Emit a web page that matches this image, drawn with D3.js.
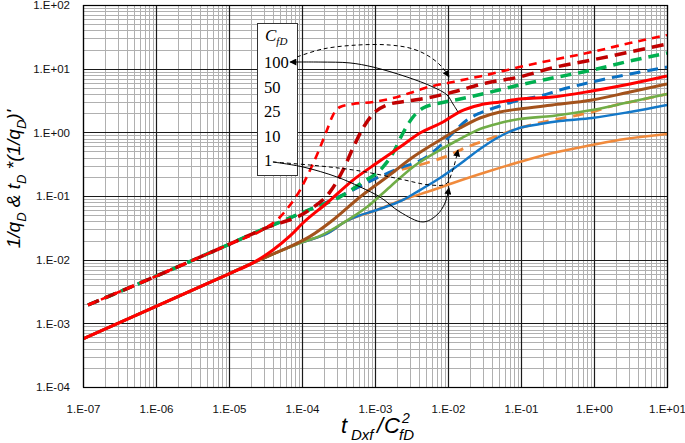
<!DOCTYPE html>
<html><head><meta charset="utf-8">
<script src="https://cdn.jsdelivr.net/npm/d3@7"></script>
<style>body{margin:0;background:#fff}svg{display:block}</style>
</head><body><svg id="c" width="685" height="443"></svg>
<script>
// ---------- data ----------
const xTickValues = [1e-7, 1e-6, 1e-5, 1e-4, 1e-3, 1e-2, 1e-1, 1e0, 1e1];
const xTickLabels = ["1.E-07","1.E-06","1.E-05","1.E-04","1.E-03","1.E-02","1.E-01","1.E+00","1.E+01"];
const yTickValues = [1e-4, 1e-3, 1e-2, 1e-1, 1e0, 1e1, 1e2];
const yTickLabels = ["1.E-04","1.E-03","1.E-02","1.E-01","1.E+00","1.E+01","1.E+02"];
const cfdLabels = ["100","50","25","10","1"];

// 1/qD (solid) for CfD = 100, 50, 25, 10, 1
const qd100 = [[1e-7,5.7e-4],[1e-6,1.85e-3],[1e-5,6.0e-3],[2.13e-5,8.9e-3],[4.0e-5,0.0142],[6.86e-5,0.0236],[1.03e-4,0.0377],[2.2e-4,0.0776],[5.0e-4,0.178],[1.06e-3,0.33],[2.2e-3,0.588],[4.13e-3,0.977],[8.55e-3,1.45],[1.46e-2,2.12],[2.74e-2,2.69],[5.15e-2,3.0],[9.5e-2,3.34],[0.27,3.59],[0.94,4.46],[3.11,5.74],[10,7.67]];
const qd50 = [[1e-7,5.7e-4],[1e-6,1.85e-3],[1e-5,6.0e-3],[2.13e-5,8.9e-3],[4.27e-5,0.0127],[6.86e-5,0.016],[1.29e-4,0.0232],[2.66e-4,0.042],[6.24e-4,0.0964],[1.46e-3,0.199],[3.32e-3,0.41],[7.76e-3,0.758],[1.46e-2,1.17],[2.74e-2,1.68],[5.15e-2,2.09],[9.5e-2,2.33],[0.27,2.69],[0.94,3.22],[3.11,4.3],[10,5.74]];
const qd25 = [[1e-7,5.7e-4],[1e-6,1.85e-3],[1e-5,6.0e-3],[2.13e-5,8.9e-3],[9.4e-5,0.0183],[1.77e-4,0.0236],[3.65e-4,0.0377],[7.76e-4,0.0671],[1.6e-3,0.139],[3.32e-3,0.286],[7.76e-3,0.528],[1.46e-2,0.786],[2.74e-2,1.13],[5.15e-2,1.40],[9.5e-2,1.62],[0.27,1.81],[0.94,2.24],[3.11,3.0],[10,4.0]];
const qd10 = [[1e-7,5.7e-4],[1e-6,1.85e-3],[1e-5,6.0e-3],[2.13e-5,8.9e-3],[9.4e-5,0.0183],[2.42e-4,0.0272],[3.65e-4,0.0377],[5.0e-4,0.0452],[1.06e-3,0.0603],[2.42e-3,0.0866],[4.13e-3,0.124],[7.76e-3,0.192],[1.46e-2,0.318],[2.74e-2,0.547],[4.69e-2,0.815],[9.5e-2,1.17],[0.182,1.35],[0.342,1.51],[0.94,1.68],[3.11,2.09],[10,2.69]];
const qd1 = [[1e-7,5.7e-4],[1e-6,1.85e-3],[1e-5,6.0e-3],[2.13e-5,8.9e-3],[9.4e-5,0.0183],[2.42e-4,0.0272],[3.65e-4,0.0377],[1.06e-3,0.0603],[2.58e-3,0.0897],[6.24e-3,0.124],[1.17e-2,0.16],[3.36e-2,0.238],[9.5e-2,0.342],[0.27,0.474],[0.94,0.633],[2.66,0.786],[10,0.942]];

// tD*(1/qD)' (dashed) for CfD = 100, 50, 25, 10, 1
const dqd100 = [[1.17e-7,1.94e-3],[1e-6,5.5e-3],[1e-5,0.0174],[3.1e-5,0.031],[5.0e-5,0.0468],[6.86e-5,0.0723],[9.4e-5,0.124],[1.29e-4,0.256],[1.6e-4,0.44],[2.2e-4,1.09],[2.66e-4,1.87],[3.32e-4,2.5],[5.0e-4,2.79],[9.4e-4,3.0],[1.77e-3,3.46],[3.01e-3,4.15],[4.84e-3,4.97],[1.17e-2,6.18],[3.36e-2,7.96],[9.5e-2,10.6],[0.27,13.7],[0.94,18.3],[3.11,25.3],[10,33.8]];
const dqd50 = [[1.17e-7,1.94e-3],[1e-6,5.5e-3],[1e-5,0.0174],[3.1e-5,0.031],[1.29e-4,0.0614],[2.42e-4,0.116],[3.65e-4,0.256],[5.0e-4,0.568],[6.86e-4,1.17],[9.4e-4,1.94],[1.46e-3,2.69],[2.74e-3,3.1],[5.15e-3,3.46],[1.17e-2,4.3],[3.36e-2,5.96],[9.5e-2,7.4],[0.27,10.3],[0.94,13.7],[3.11,18.3],[10,24.4]];
const dqd25 = [[1.17e-7,1.94e-3],[1e-6,5.5e-3],[1e-5,0.0174],[3.1e-5,0.031],[1.29e-4,0.0614],[3.32e-4,0.0964],[6.24e-4,0.155],[1.29e-3,0.286],[1.77e-3,0.474],[2.42e-3,0.977],[3.32e-3,1.74],[4.55e-3,2.41],[7.76e-3,2.89],[1.46e-2,3.34],[3.36e-2,4.15],[9.5e-2,5.54],[0.27,7.13],[0.94,9.5],[3.11,13.2],[10,17.6]];
const dqd10 = [[1.17e-7,1.94e-3],[1e-6,5.5e-3],[1e-5,0.0174],[3.1e-5,0.031],[1.29e-4,0.0614],[3.88e-4,0.108],[1.06e-3,0.192],[2.2e-3,0.275],[4.55e-3,0.381],[7.76e-3,0.61],[1.17e-2,0.977],[1.82e-2,1.56],[2.74e-2,2.01],[4.69e-2,2.5],[9.5e-2,3.22],[0.182,3.72],[0.342,4.62],[0.94,6.18],[3.11,8.24],[10,10.6]];
const dqd1 = [[1.17e-7,1.94e-3],[1e-6,5.5e-3],[1e-5,0.0174],[3.1e-5,0.031],[1.29e-4,0.0614],[3.88e-4,0.108],[1.06e-3,0.192],[2.2e-3,0.256],[4.55e-3,0.318],[9.7e-3,0.425],[1.82e-2,0.588],[3.36e-2,0.758],[9.5e-2,1.17],[0.27,1.56],[0.94,2.09],[1.77,2.59],[4.27,3.22],[10,4.0]];

// annotation arrows (data coordinates)
const arrow100Solid = [[6.86e-5,12.7],[1.77e-4,12.7],[4.55e-4,12.3],[9.4e-4,10.6],[2.74e-3,7.4],[6.24e-3,5.15],[9.7e-3,3.86],[1.17e-2,2.79],[1.37e-2,2.09]];
const arrow100Dash = [[8.55e-5,15.3],[1.94e-4,20.4],[5.66e-4,23.5],[1.6e-3,23.5],[3.32e-3,20.4],[5.66e-3,15.3],[8.28e-3,10.6],[1.03e-2,7.4]];
const arrow1Solid = [[4.0e-5,0.342],[1.03e-4,0.286],[3.01e-4,0.199],[6.24e-4,0.139],[1.17e-3,0.0964],[2.2e-3,0.0561],[4.55e-3,0.0391],[7.06e-3,0.0504],[9.1e-3,0.0776],[1.03e-2,0.134]];
const arrow1Dash = [[4.0e-5,0.342],[1.77e-4,0.296],[6.24e-4,0.247],[2.2e-3,0.185],[5.66e-3,0.149],[9.4e-3,0.155],[1.14e-2,0.238],[1.37e-2,0.528]];

// ---------- drawing ----------
const svg = d3.select("#c");
const L = 83, R = 667, T = 5, B = 387;
const x = d3.scaleLog().domain([1e-7, 10]).range([L, R]);
const y = d3.scaleLog().domain([1e-4, 100]).range([B, T]);

svg.append("rect").attr("width",685).attr("height",443).attr("fill","#fff");

// grid
const minorX = [], minorY = [];
for (let e = -7; e < 1; e++) for (let k = 2; k <= 9; k++) minorX.push(k * Math.pow(10, e));
for (let e = -4; e < 2; e++) for (let k = 2; k <= 9; k++) minorY.push(k * Math.pow(10, e));
const g = svg.append("g");
g.selectAll(".mx").data(minorX).join("line")
  .attr("x1", d => Math.round(x(d)) + 0.5).attr("x2", d => Math.round(x(d)) + 0.5)
  .attr("y1", T).attr("y2", B).attr("stroke", "#b0b0b0").attr("stroke-width", 1);
g.selectAll(".my").data(minorY).join("line")
  .attr("y1", d => Math.round(y(d)) + 0.5).attr("y2", d => Math.round(y(d)) + 0.5)
  .attr("x1", L).attr("x2", R).attr("stroke", "#b0b0b0").attr("stroke-width", 1);
g.selectAll(".Mx").data(xTickValues).join("line")
  .attr("x1", d => Math.round(x(d)) + 0.5).attr("x2", d => Math.round(x(d)) + 0.5)
  .attr("y1", T).attr("y2", B).attr("stroke", "#1a1a1a").attr("stroke-width", 1.2);
g.selectAll(".My").data(yTickValues).join("line")
  .attr("y1", d => Math.round(y(d)) + 0.5).attr("y2", d => Math.round(y(d)) + 0.5)
  .attr("x1", L).attr("x2", R).attr("stroke", "#1a1a1a").attr("stroke-width", 1.2);

// axes (labels only)
const tickFont = "'Liberation Sans', Arial, sans-serif";
const xa = svg.append("g").attr("transform", `translate(0,${B})`)
  .call(d3.axisBottom(x).tickValues(xTickValues).tickFormat((d, i) => xTickLabels[i]).tickSize(0).tickPadding(18));
const ya = svg.append("g").attr("transform", `translate(${L},0)`)
  .call(d3.axisLeft(y).tickValues(yTickValues).tickFormat((d, i) => yTickLabels[i]).tickSize(0).tickPadding(13));
[xa, ya].forEach(a => {
  a.select(".domain").remove();
  a.selectAll("text").attr("font-family", tickFont).attr("font-size", 11.5).attr("fill", "#111");
});

// series
const line = d3.line().x(d => x(d[0])).y(d => y(d[1])).curve(d3.curveMonotoneX);
const plot = svg.append("g");
plot.append("clipPath").attr("id","clip").append("rect").attr("x",L).attr("y",T).attr("width",R-L).attr("height",B-T);
const pg = plot.append("g").attr("clip-path","url(#clip)");

const dashed = [
  {data: dqd1,   color: "#f08a3c", w: 2.8, dash: "11,7"},
  {data: dqd10,  color: "#0a70c2", w: 3,   dash: "11,7"},
  {data: dqd25,  color: "#00b050", w: 3.5, dash: "11,7"},
  {data: dqd50,  color: "#c00000", w: 3.5, dash: "12,7"},
  {data: dqd100, color: "#ff0000", w: 2.6, dash: "8,6"}
];
const solid = [
  {data: qd1,   color: "#f08a3c", w: 2.5},
  {data: qd10,  color: "#1478c8", w: 2.5},
  {data: qd25,  color: "#70ad47", w: 2.6},
  {data: qd50,  color: "#a3521c", w: 3},
  {data: qd100, color: "#ff0000", w: 3}
];
dashed.forEach(s => pg.append("path").attr("d", line(s.data)).attr("fill","none")
  .attr("stroke", s.color).attr("stroke-width", s.w).attr("stroke-dasharray", s.dash));
solid.forEach(s => pg.append("path").attr("d", line(s.data)).attr("fill","none")
  .attr("stroke", s.color).attr("stroke-width", s.w));

// frame
svg.append("rect").attr("x", L + 0.5).attr("y", T + 0.5).attr("width", R - L).attr("height", B - T)
  .attr("fill", "none").attr("stroke", "#000").attr("stroke-width", 1.2);

// legend box
const lg = svg.append("g");
lg.append("rect").attr("x", 257.5).attr("y", 23.5).attr("width", 40).attr("height", 152)
  .attr("fill", "#fff").attr("stroke", "#333").attr("stroke-width", 1);
const serif = "'Liberation Serif', 'Times New Roman', serif";
const ct = lg.append("text").attr("x", 265).attr("y", 41).attr("font-family", serif)
  .attr("font-size", 17).attr("font-style", "italic").attr("fill", "#000");
ct.append("tspan").text("C");
ct.append("tspan").attr("font-size", 11).attr("dy", 4).text("fD");
lg.selectAll(".cl").data(cfdLabels).join("text")
  .attr("x", 264).attr("y", (d, i) => 68 + i * 24.5)
  .attr("font-family", serif).attr("font-size", 16.5).attr("fill", "#000").text(d => d);

// arrows
const defs = svg.append("defs");
defs.append("marker").attr("id", "ah").attr("viewBox", "0 0 10 10").attr("refX", 9).attr("refY", 5)
  .attr("markerWidth", 9).attr("markerHeight", 7).attr("markerUnits", "userSpaceOnUse")
  .attr("orient", "auto-start-reverse")
  .append("path").attr("d", "M0,0 L10,5 L0,10 Z").attr("fill", "#000");
const aline = d3.line().x(d => x(d[0])).y(d => y(d[1])).curve(d3.curveCatmullRom.alpha(0.5));
const ag = svg.append("g").attr("fill", "none").attr("stroke", "#000").attr("stroke-width", 1);
ag.append("path").attr("d", aline(arrow100Solid)).attr("marker-start", "url(#ah)");
ag.append("path").attr("d", aline(arrow100Dash)).attr("stroke-dasharray", "4,3").attr("marker-end", "url(#ah)");
ag.append("path").attr("d", aline(arrow1Solid)).attr("marker-end", "url(#ah)");
ag.append("path").attr("d", aline(arrow1Dash)).attr("stroke-dasharray", "4,3").attr("marker-end", "url(#ah)");

// axis titles
const titleFont = "'Liberation Sans', Arial, sans-serif";
const xt = svg.append("g").attr("font-family", titleFont).attr("font-style", "italic").attr("fill", "#000");
xt.append("text").attr("x", 341).attr("y", 433).attr("font-size", 22).text("t");
xt.append("text").attr("x", 351).attr("y", 440).attr("font-size", 15).text("Dxf");
xt.append("text").attr("x", 377).attr("y", 433).attr("font-size", 22).text("/");
xt.append("text").attr("x", 384).attr("y", 433).attr("font-size", 22).text("C");
xt.append("text").attr("x", 399).attr("y", 440).attr("font-size", 15).text("fD");
xt.append("text").attr("x", 402).attr("y", 423).attr("font-size", 14).text("2");

const yt = svg.append("text").attr("font-family", titleFont).attr("font-size", 19)
  .attr("font-style", "italic").attr("fill", "#000")
  .attr("text-anchor", "middle").attr("transform", "translate(20,179) rotate(-90)");
yt.append("tspan").text("1/q");
yt.append("tspan").attr("font-size", 13).attr("dy", 6).text("D");
yt.append("tspan").attr("dy", -6).text(" & t");
yt.append("tspan").attr("font-size", 13).attr("dy", 6).text("D");
yt.append("tspan").attr("dy", -6).text(" *(1/q");
yt.append("tspan").attr("font-size", 13).attr("dy", 6).text("D");
yt.append("tspan").attr("dy", -6).text(")'");
</script>
</body></html>
